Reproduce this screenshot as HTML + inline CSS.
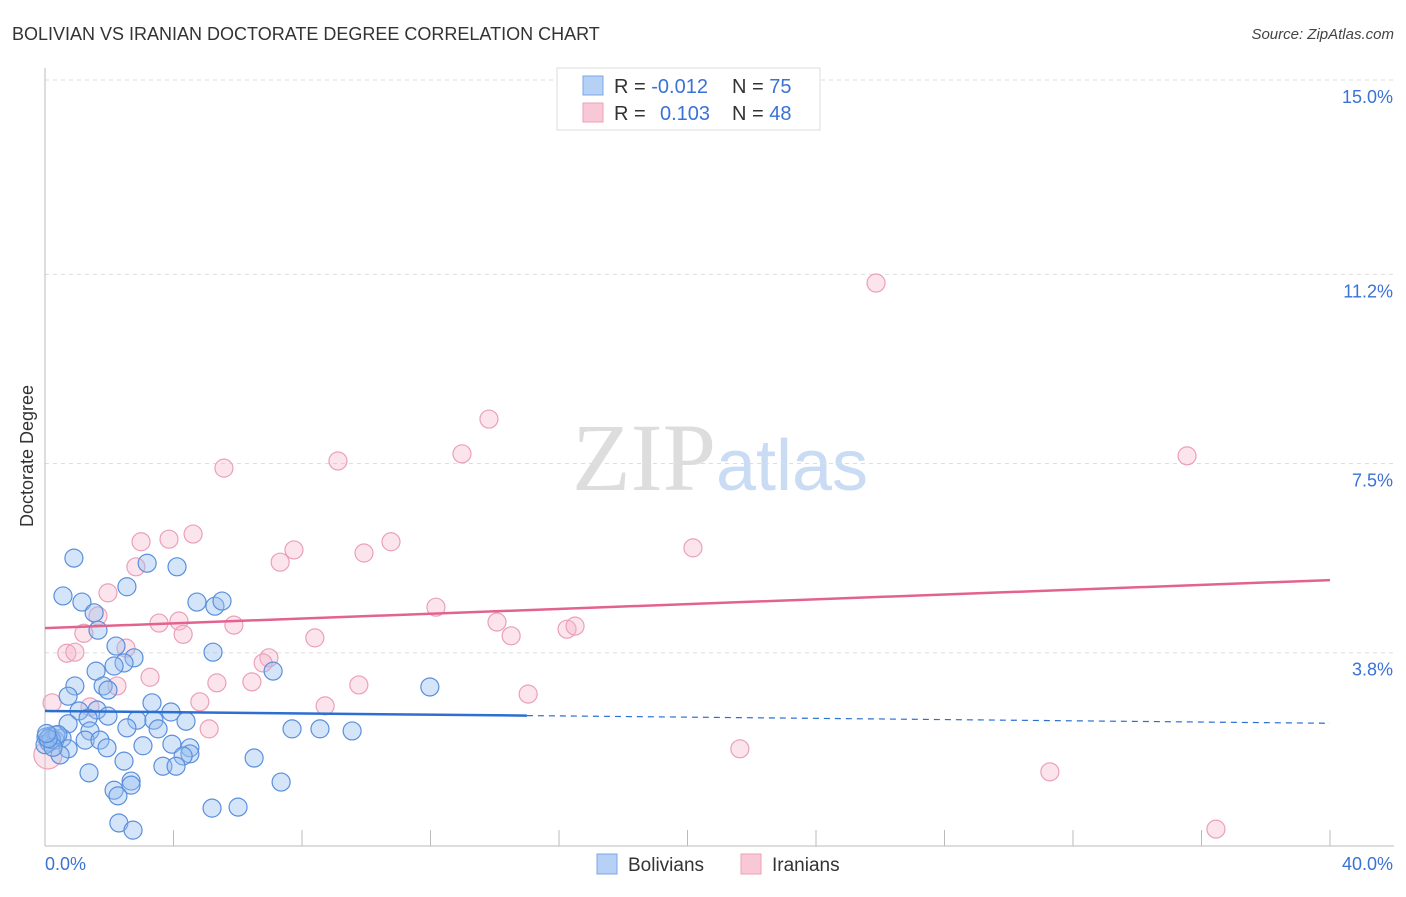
<!DOCTYPE html>
<html><head><meta charset="utf-8"><style>
body{margin:0;background:#fff;font-family:"Liberation Sans",sans-serif;}
svg text{font-family:"Liberation Sans",sans-serif;}
</style></head><body>
<svg id="chart" width="1406" height="892" xmlns="http://www.w3.org/2000/svg">
<text x="12" y="40" font-size="18" fill="#333">BOLIVIAN VS IRANIAN DOCTORATE DEGREE CORRELATION CHART</text>
<text x="1394" y="39" font-size="15" fill="#444" text-anchor="end" font-style="italic">Source: ZipAtlas.com</text>
<text x="720" y="490" font-size="96" text-anchor="middle"><tspan fill="#ddd" font-family="Liberation Serif">ZIP</tspan><tspan fill="#c9dcf3" font-size="72">atlas</tspan></text>
<text transform="translate(33,456) rotate(-90)" font-size="18" fill="#333" text-anchor="middle">Doctorate Degree</text>
<g id="grid"></g><g id="axes"></g><g id="pts"></g><g id="trends"></g>
<g>
<rect x="557" y="68" width="263" height="62" fill="#fff" stroke="#ddd"/>
<rect x="583" y="76" width="20" height="19" fill="#b7d0f5" stroke="#7aa7e6"/>
<rect x="583" y="103" width="20" height="19" fill="#f8c8d6" stroke="#ee9fb8"/>
<text x="614" y="93" font-size="20" fill="#333">R = <tspan fill="#3a72d6">-0.012</tspan><tspan x="732">N = </tspan><tspan fill="#3a72d6">75</tspan></text>
<text x="614" y="120" font-size="20" fill="#333">R = <tspan x="660" fill="#3a72d6">0.103</tspan><tspan x="732">N = </tspan><tspan fill="#3a72d6">48</tspan></text>
</g>
<g>
<rect x="597" y="854" width="20" height="20" fill="#b7d0f5" stroke="#7aa7e6"/>
<text x="628" y="871" font-size="19" fill="#333">Bolivians</text>
<rect x="741" y="854" width="20" height="20" fill="#f8c8d6" stroke="#ee9fb8"/>
<text x="772" y="871" font-size="19" fill="#333">Iranians</text>
</g>
</svg>
<script>
const yTicks=[3.8,7.5,11.2,15.0];
const yTickLabels=["3.8%","7.5%","11.2%","15.0%"];
const xTicks=[0,4,8,12,16,20,24,28,32,36,40];
const blueX=[0.90,0.56,1.15,1.53,1.65,2.55,3.18,4.11,4.73,5.29,5.51,2.21,2.77,2.46,2.15,1.59,5.23,7.10,0.93,1.81,1.96,0.72,3.33,1.06,1.62,1.96,1.34,2.86,3.39,3.92,4.39,2.55,3.52,0.72,1.40,0.53,0.16,0.31,0.03,1.25,1.71,3.05,3.95,4.51,1.93,0.72,0.47,4.51,4.30,2.46,6.51,3.67,4.08,1.37,2.68,2.68,2.15,2.27,7.35,5.20,6.01,2.30,2.74,7.69,8.56,9.56,11.98,0.12,0.34,0.0,0.2,0.4,0.25,0.1,0.05];
const blueY=[5.65,4.91,4.79,4.58,4.24,5.09,5.55,5.48,4.79,4.71,4.81,3.93,3.70,3.60,3.54,3.44,3.81,3.44,3.15,3.15,3.07,2.95,2.82,2.66,2.68,2.56,2.52,2.48,2.48,2.64,2.46,2.33,2.31,2.41,2.27,2.13,2.17,2.09,2.15,2.09,2.09,1.98,2.01,1.94,1.94,1.92,1.80,1.82,1.78,1.68,1.74,1.58,1.58,1.45,1.29,1.21,1.11,1.00,1.27,0.76,0.78,0.47,0.33,2.31,2.31,2.27,3.13,2.05,2.19,2.0,2.1,2.2,1.95,2.12,2.22];
const pinkX=[25.87,13.82,12.98,9.12,5.57,35.55,4.61,2.99,3.86,10.77,7.75,9.93,7.32,20.17,2.83,1.96,1.65,12.17,3.55,4.17,5.88,4.30,1.21,14.07,14.51,16.25,16.50,8.40,2.52,0.68,0.93,6.97,6.79,3.27,2.24,5.35,6.44,9.77,0.22,1.40,4.82,8.72,15.04,5.11,21.63,31.28,36.45,0.09];
const pinkY=[11.03,8.37,7.69,7.55,7.41,7.65,6.12,5.97,6.02,5.97,5.81,5.75,5.57,5.85,5.48,4.97,4.52,4.69,4.38,4.42,4.34,4.16,4.18,4.40,4.13,4.26,4.32,4.09,3.89,3.79,3.81,3.70,3.60,3.32,3.15,3.21,3.23,3.17,2.82,2.74,2.84,2.76,2.99,2.31,1.92,1.47,0.35,1.80];
const blueTrend=[2.66,2.42];const pinkTrend=[4.28,5.22];
const NS="http://www.w3.org/2000/svg";
const sx=v=>45+v*(1285/40), sy=v=>847-v*51.13;
function mk(t,a,p){const e=document.createElementNS(NS,t);for(const k in a)e.setAttribute(k,a[k]);p.appendChild(e);return e;}
const grid=document.getElementById('grid'),axes=document.getElementById('axes'),pts=document.getElementById('pts'),tr=document.getElementById('trends');
yTicks.forEach((v,i)=>{const l=mk('line',{x1:45,x2:1394,y1:sy(v),y2:sy(v),stroke:'#ddd','stroke-dasharray':'4,4'},grid);

const t=mk('text',{x:1393,y:sy(v)+23,'font-size':18,fill:'#3a72d6','text-anchor':'end'},axes);t.textContent=yTickLabels[i];
});
const ax=mk('line',{x1:45,x2:45,y1:68,y2:846,stroke:'#bbb'},axes);
const bx=mk('line',{x1:45,x2:1394,y1:846,y2:846,stroke:'#bbb'},axes);
xTicks.forEach(v=>{const l=mk('line',{x1:sx(v),x2:sx(v),y1:830,y2:846,stroke:'#bbb'},axes);});
[['0.0%',45,'start'],['40.0%',1393,'end']].forEach(d=>{const t=mk('text',{x:d[1],y:870,'font-size':18,fill:'#3a72d6','text-anchor':d[2]},axes);t.textContent=d[0];});
pinkX.forEach((x,i)=>{const c=mk('circle',{cx:sx(x),cy:sy(pinkY[i]),r:i==47?14:9,fill:'rgba(246,178,200,0.35)',stroke:'#eba0b8','stroke-width':1.2},pts);});
blueX.forEach((x,i)=>{const c=mk('circle',{cx:sx(x),cy:sy(blueY[i]),r:9,fill:'rgba(150,190,240,0.4)',stroke:'#5a8fdc','stroke-width':1.2},pts);});
const yb=x=>blueTrend[0]+(blueTrend[1]-blueTrend[0])*x/40;
let l1=mk('line',{x1:sx(0),y1:sy(yb(0)),x2:sx(15),y2:sy(yb(15)),stroke:'#2c6fd1','stroke-width':2.5},tr);
let l2=mk('line',{x1:sx(15),y1:sy(yb(15)),x2:sx(40),y2:sy(yb(40)),stroke:'#2c6fd1','stroke-width':1.2,'stroke-dasharray':'6,5'},tr);
let l3=mk('line',{x1:sx(0),y1:sy(pinkTrend[0]),x2:sx(40),y2:sy(pinkTrend[1]),stroke:'#e3638f','stroke-width':2.5},tr);
</script>
</body></html>
